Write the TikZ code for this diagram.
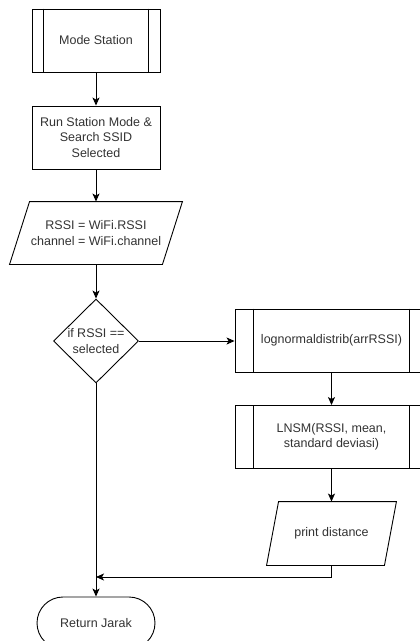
\documentclass[tikz,border=0pt]{standalone}
\usepackage{fontspec}
\setmainfont{Liberation Sans}
\usetikzlibrary{shapes.geometric,arrows.meta,calc}
\definecolor{txt}{HTML}{333333}
\begin{document}
\begin{tikzpicture}[x=1pt,y=-1pt,
  base/.style={font=\fontsize{12.5}{15.5}\selectfont, text=txt, align=center, inner sep=0pt, line width=0.9pt},
  proc/.style={base, draw, rectangle, minimum width=128, minimum height=63},
  subproc/.style={base, draw, rectangle, minimum width=193, minimum height=63},
  iobox/.style={base, rectangle, minimum height=62},
  decision/.style={base, draw, diamond, minimum width=85, minimum height=84},
  terminal/.style={base, draw, rectangle, rounded corners=26, minimum width=118, minimum height=52},
  flow/.style={line width=0.9pt, -{Stealth[length=8pt,width=7pt,inset=2pt]}},
  edge/.style={line width=0.9pt}]
\clip (0,0) rectangle (420,641);
\fill[white] (0,0) rectangle (420,641);

% main column
\node[proc] (ms) at (96,40.5) {Mode Station};
\draw[edge] ($(ms.north west)+(12,0)$) -- ($(ms.south west)+(12,0)$)
            ($(ms.north east)+(-12,0)$) -- ($(ms.south east)+(-12,0)$);
\node[proc] (run) at (96,137.5) {Run Station Mode \&\\Search SSID\\Selected};
\node[iobox, minimum width=172] (io) at (96,233) {RSSI = WiFi.RSSI\\channel = WiFi.channel};
\draw[edge] ($(io.north west)+(20,0)$) -- (io.north east) -- ($(io.south east)+(-20,0)$) -- (io.south west) -- cycle;
\node[decision] (dec) at (96,341) {};
\node[base] at (96,341) {if RSSI ==\\selected};
\node[terminal] (ret) at (96,623) {Return Jarak};

% right column
\node[subproc] (logn) at (331.5,340.5) {lognormaldistrib(arrRSSI)};
\draw[edge] ($(logn.north west)+(19,0)$) -- ($(logn.south west)+(19,0)$)
            ($(logn.north east)+(-19,0)$) -- ($(logn.south east)+(-19,0)$);
\node[subproc] (lnsm) at (331.5,437) {LNSM(RSSI, mean,\\standard deviasi)};
\draw[edge] ($(lnsm.north west)+(19,0)$) -- ($(lnsm.south west)+(19,0)$)
            ($(lnsm.north east)+(-19,0)$) -- ($(lnsm.south east)+(-19,0)$);
\node[iobox, minimum width=129, minimum height=63] (pd) at (331.5,533.5) {print distance};
\draw[edge] ($(pd.north west)+(12,0)$) -- (pd.north east) -- ($(pd.south east)+(-12,0)$) -- (pd.south west) -- cycle;

\coordinate (merge) at (96,577);

% connectors
\draw[flow] (ms) -- (run);
\draw[flow] (run) -- (io);
\draw[flow] (io) -- (dec);
\draw[flow] (dec.east) -- (dec.east -| logn.west);
\draw[flow] (logn) -- (lnsm);
\draw[flow] (lnsm) -- (pd);
\draw[flow] (pd.south) -- (pd.south |- merge) -- (merge);
\draw[flow] (dec.south) -- (ret.north);
\end{tikzpicture}
\end{document}
